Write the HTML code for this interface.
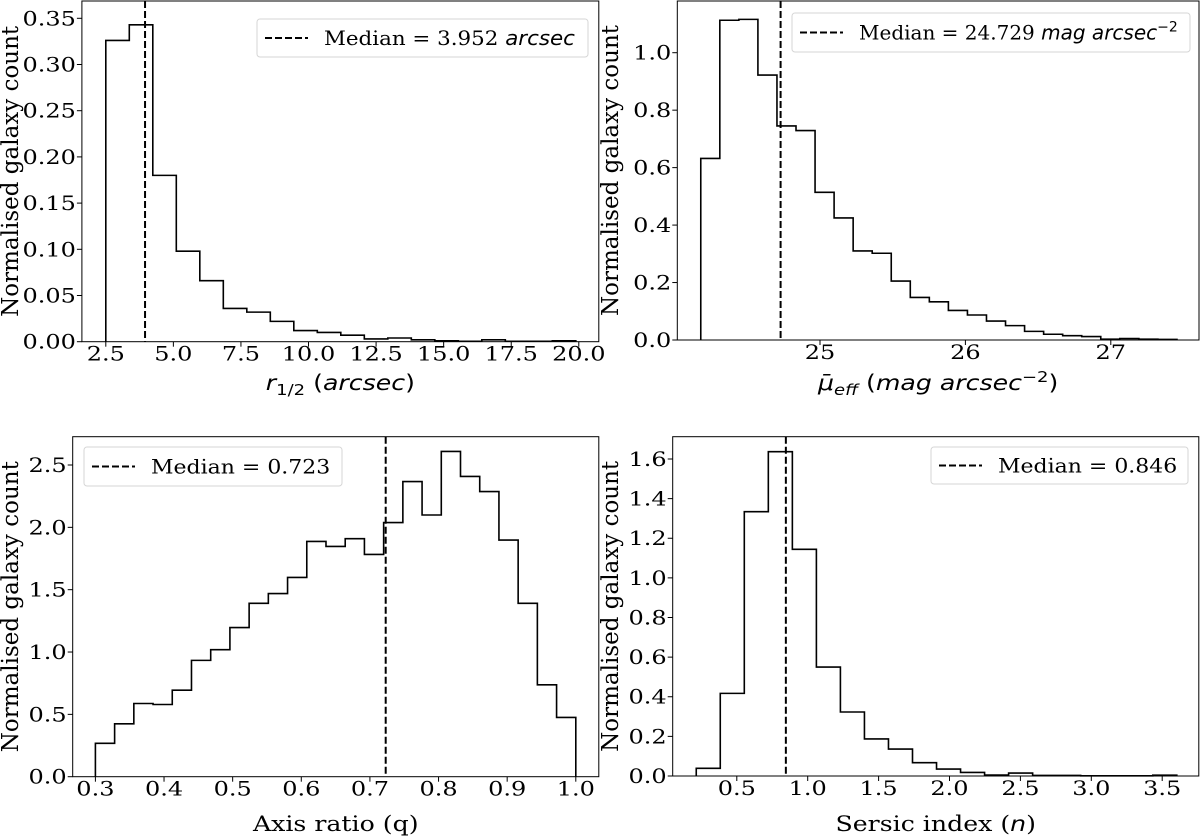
<!DOCTYPE html>
<html><head><meta charset="utf-8"><style>
html,body{margin:0;padding:0;background:#fff;}
svg{display:block;font-family:"DejaVu Serif","Liberation Serif",serif;}
</style></head><body>
<svg id="fig" width="1200" height="837" viewBox="0 0 1200 837" xmlns="http://www.w3.org/2000/svg"></svg>
<script>
// Panel 1: half-light radius
const p1Start = 2.5, p1End = 19.89;
const p1Values = [0.326,0.343,0.180,0.098,0.066,0.036,0.032,0.022,0.012,0.010,0.007,0.003,0.004,0.002,0.001,0.0005,0.002,0.0005,0.0005,0.001];
const p1Median = 3.952;
const p1XTicks = [2.5,5.0,7.5,10.0,12.5,15.0,17.5,20.0];
const p1YTicks = [0,0.05,0.10,0.15,0.20,0.25,0.30,0.35];
// Panel 2: surface brightness
const p2Start = 24.18, p2End = 27.455;
const p2Values = [0.632,1.113,1.116,0.922,0.745,0.729,0.514,0.425,0.310,0.302,0.205,0.148,0.133,0.103,0.087,0.066,0.050,0.030,0.020,0.015,0.012,0.003,0.005,0.003,0.002];
const p2Median = 24.729;
const p2XTicks = [25,26,27];
const p2YTicks = [0,0.2,0.4,0.6,0.8,1.0];
// Panel 3: axis ratio
const p3Start = 0.3, p3End = 1.0;
const p3Values = [0.268,0.424,0.587,0.579,0.694,0.933,1.019,1.196,1.391,1.469,1.598,1.887,1.847,1.909,1.783,2.038,2.367,2.099,2.609,2.408,2.287,1.898,1.391,0.737,0.475];
const p3Median = 0.723;
const p3XTicks = [0.3,0.4,0.5,0.6,0.7,0.8,0.9,1.0];
const p3YTicks = [0,0.5,1.0,1.5,2.0,2.5];
// Panel 4: sersic index
const p4Start = 0.214, p4End = 3.603;
const p4Values = [0.039,0.417,1.334,1.637,1.144,0.550,0.323,0.187,0.136,0.067,0.035,0.018,0.005,0.015,0.003,0.003,0.001,0.001,0.001,0.004];
const p4Median = 0.846;
const p4XTicks = [0.5,1.0,1.5,2.0,2.5,3.0,3.5];
const p4YTicks = [0,0.2,0.4,0.6,0.8,1.0,1.2,1.4,1.6];

const NS = "http://www.w3.org/2000/svg";
const svg = document.getElementById('fig');
function mk(tag, attrs, parent){
  const e = document.createElementNS(NS, tag);
  for (const k in attrs) e.setAttribute(k, attrs[k]);
  (parent||svg).appendChild(e);
  return e;
}
function sx(x,y,s){ return 'translate('+x+','+y+') scale('+s+',1) translate('+(-x)+','+(-y)+')'; }

const panels = [
 {name:'r-half', x0:0, start:p1Start,end:p1End,vals:p1Values,med:p1Median,xt:p1XTicks,yt:p1YTicks,ydec:2,xdec:1,
  box:[81.9,1,598.8,341.7], xa:[2.5,105.8,20.0,578.8], ya:[0,341.7,0.35,18.3],
  leg:[257,19,588,57], legScale:1.07, legText:['Median = 3.952 ','arcsec',''], xlabY:383,
  xlab:'<tspan font-family="DejaVu Sans" font-style="italic">r</tspan><tspan font-family="DejaVu Sans" font-size="15" dy="5">1/2</tspan><tspan font-family="DejaVu Sans" dy="-5"> (</tspan><tspan font-family="DejaVu Sans" font-style="italic">arcsec</tspan><tspan font-family="DejaVu Sans">)</tspan>'},
 {name:'surface-brightness', x0:600, start:p2Start,end:p2End,vals:p2Values,med:p2Median,xt:p2XTicks,yt:p2YTicks,ydec:1,xdec:0,
  box:[677.3,1,1199,340], xa:[25,820,27,1110.8], ya:[0,340,1.0,52.7],
  leg:[792,13,1190,52], legScale:1.0, legText:['Median = 24.729 ','mag arcsec','−2'], xlabY:383,
  xlab:'<tspan font-family="DejaVu Sans" font-style="italic">μ̄</tspan><tspan font-family="DejaVu Sans" font-style="italic" font-size="15" dy="5">eff</tspan><tspan font-family="DejaVu Sans" dy="-5"> (</tspan><tspan font-family="DejaVu Sans" font-style="italic">mag arcsec</tspan><tspan font-family="DejaVu Sans" font-size="15" dy="-8">−2</tspan><tspan font-family="DejaVu Sans" dy="8">)</tspan>'},
 {name:'axis-ratio', x0:0, start:p3Start,end:p3End,vals:p3Values,med:p3Median,xt:p3XTicks,yt:p3YTicks,ydec:1,xdec:1,
  box:[72.7,436.7,598.8,776.7], xa:[0.3,95.4,1.0,575.8], ya:[0,776.7,2.5,465],
  leg:[84,447,342,486], legScale:1.1, legText:['Median = 0.723','',''], xlabY:824,
  xlab:'Axis ratio (q)'},
 {name:'sersic-index', x0:600, start:p4Start,end:p4End,vals:p4Values,med:p4Median,xt:p4XTicks,yt:p4YTicks,ydec:1,xdec:1,
  box:[672.7,436.7,1198.8,776], xa:[0.5,736.8,3.5,1162.2], ya:[0,776,1.6,459],
  leg:[931,447,1188,484], legScale:1.1, legText:['Median = 0.846','',''], xlabY:824,
  xlab:'Sersic index (<tspan font-family="DejaVu Sans" font-style="italic">n</tspan>)'}
];

panels.forEach(p=>{
  const g = mk('g',{});
  
  
  const [L,T,R,B] = p.box;
  const X = v => p.xa[1] + (v-p.xa[0])*(p.xa[3]-p.xa[1])/(p.xa[2]-p.xa[0]);
  const Y = v => p.ya[1] + (v-p.ya[0])*(p.ya[3]-p.ya[1])/(p.ya[2]-p.ya[0]);
  const n = p.vals.length, w = (p.end-p.start)/n;
  let d = 'M'+X(p.start).toFixed(2)+','+Y(0).toFixed(2);
  p.vals.forEach((v,i)=>{
    d += ' L'+X(p.start+i*w).toFixed(2)+','+Y(v).toFixed(2)+' L'+X(p.start+(i+1)*w).toFixed(2)+','+Y(v).toFixed(2);
  });
  d += ' L'+X(p.end).toFixed(2)+','+Y(0).toFixed(2);
  const h = mk('path',{d:d,fill:'none',stroke:'#000','stroke-width':1.6},g);
  
  
  const m = mk('line',{x1:X(p.med),x2:X(p.med),y1:T,y2:B,stroke:'#000','stroke-width':2,'stroke-dasharray':'7,3'},g);
  
  
  const fr = mk('rect',{x:L,y:T,width:R-L,height:B-T,fill:'none',stroke:'#000','stroke-width':1},g);
  
  
  p.xt.forEach(t=>{
    const x = X(t);
    const tk = mk('line',{x1:x,x2:x,y1:B,y2:B+5,stroke:'#000','stroke-width':1},g);
    
    
    const tl = mk('text',{x:x,y:B+19,'text-anchor':'middle','font-size':20,transform:sx(x,B+19,1.2)},g);
    
    
    tl.textContent = t.toFixed(p.xdec);
  });
  p.yt.forEach(t=>{
    const y = Y(t);
    const tk = mk('line',{x1:L-5,x2:L,y1:y,y2:y,stroke:'#000','stroke-width':1},g);
    
    
    const tl = mk('text',{x:L-6,y:y+7,'text-anchor':'end','font-size':20,transform:sx(L-6,y+7,1.2)},g);
    
    
    tl.textContent = t.toFixed(p.ydec);
  });
  const cy = (T+B)/2;
  const yl = mk('text',{x:0,y:0,'text-anchor':'middle','font-size':23,transform:'translate('+(p.x0+18)+','+cy+') rotate(-90)'},g);
  
  
  yl.textContent = 'Normalised galaxy count';
  const xc = (L+R)/2;
  const xl = mk('text',{x:xc,y:p.xlabY+7,'text-anchor':'middle','font-size':21,transform:sx(xc,p.xlabY+7,1.2)},g);
  
  
  xl.innerHTML = p.xlab;
  const [lx1,ly1,lx2,ly2] = p.leg;
  const lg = mk('g',{},g);
  
  
  mk('rect',{x:lx1,y:ly1,width:lx2-lx1,height:ly2-ly1,rx:3,fill:'#fff','fill-opacity':0.8,stroke:'#d6d6d6','stroke-width':1},lg);
  const my = (ly1+ly2)/2;
  mk('line',{x1:lx1+8,x2:lx1+51,y1:my,y2:my,stroke:'#000','stroke-width':2,'stroke-dasharray':'7,3'},lg);
  const lt = mk('text',{x:lx1+67,y:my+7,'font-size':20,transform:sx(lx1+67,my+7,p.legScale)},lg);
  
  
  let html = p.legText[0];
  if (p.legText[1]) html += '<tspan font-family="DejaVu Sans" font-style="italic">'+p.legText[1]+'</tspan>';
  if (p.legText[2]) html += '<tspan font-family="DejaVu Sans" font-size="14" dy="-8">'+p.legText[2]+'</tspan>';
  lt.innerHTML = html;
});
</script>
</body></html>
